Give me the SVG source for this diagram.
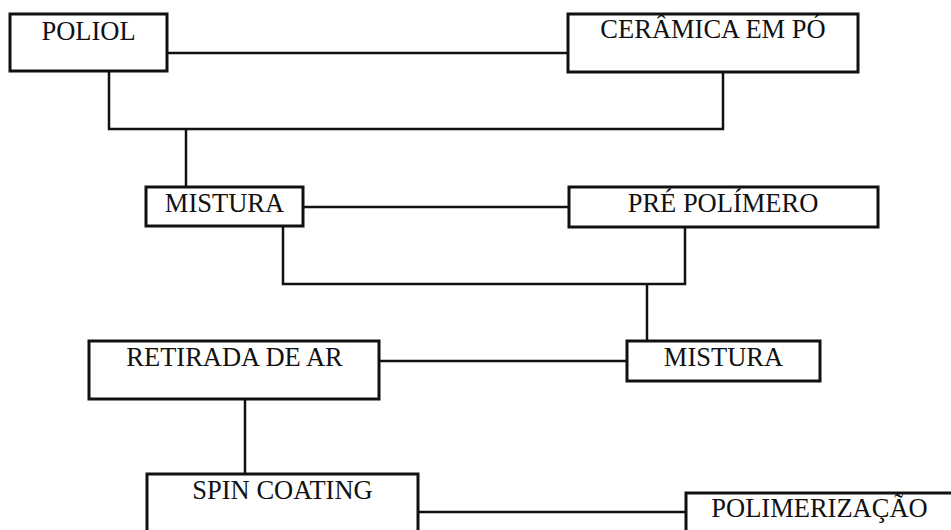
<svg xmlns="http://www.w3.org/2000/svg" width="951" height="530" viewBox="0 0 951 530">
<style>
.box{fill:#fff;stroke:#111;stroke-width:3}
.ln{fill:none;stroke:#111;stroke-width:2.5}
text{font-family:"Liberation Serif","Times New Roman",serif;font-size:26.5px;fill:#111;text-anchor:middle}
</style>
<rect width="951" height="530" fill="#fff"/>
<g id="connectors">
<path class="ln" d="M167 53H568"/>
<path class="ln" d="M109 71V129H723V72"/>
<path class="ln" d="M186 129V187"/>
<path class="ln" d="M303 207H569"/>
<path class="ln" d="M283 226V284H685V227"/>
<path class="ln" d="M647 284V341"/>
<path class="ln" d="M379 361H627"/>
<path class="ln" d="M245 399V474"/>
<path class="ln" d="M418 512H686"/>
</g>
<g id="poliol"><rect class="box" x="10" y="14" width="157" height="57"/><text x="88.5" y="40">POLIOL</text></g>
<g id="ceramica"><rect class="box" x="568" y="14" width="290" height="58"/><text x="713" y="38">CERÂMICA EM PÓ</text></g>
<g id="mistura1"><rect class="box" x="146" y="187" width="157" height="39"/><text x="224.5" y="212">MISTURA</text></g>
<g id="prepolimero"><rect class="box" x="569" y="187" width="309" height="40"/><text x="723" y="212">PRÉ POLÍMERO</text></g>
<g id="mistura2"><rect class="box" x="627" y="341" width="193" height="40"/><text x="723.5" y="366">MISTURA</text></g>
<g id="retirada"><rect class="box" x="89" y="341" width="290" height="58"/><text x="234.5" y="366">RETIRADA DE AR</text></g>
<g id="spin"><rect class="box" x="147" y="474" width="271" height="70"/><text x="282.5" y="499">SPIN COATING</text></g>
<g id="polimerizacao"><rect class="box" x="686" y="493" width="280" height="60"/><text x="819.5" y="517">POLIMERIZAÇÃO</text></g>
</svg>
